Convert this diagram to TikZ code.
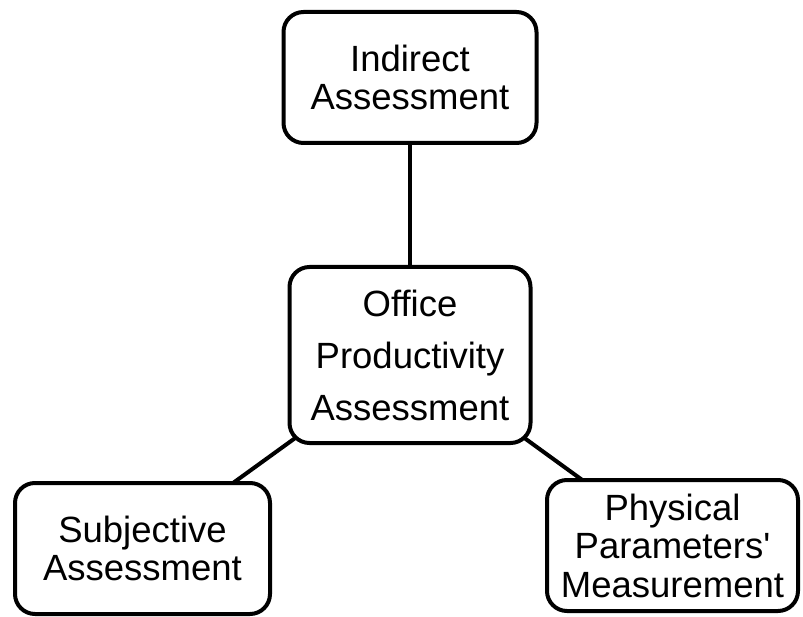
\documentclass[tikz,border=0pt]{standalone}
\usepackage{fontspec}
\setmainfont{Liberation Sans}
\usetikzlibrary{backgrounds}

\begin{document}
\begin{tikzpicture}[x=1pt, y=-1pt,
        basic/.style  = {draw, line width=4pt, rounded corners=20pt, fill=white,
                         align=center, inner sep=0pt,
                         font=\fontsize{36.5}{38.5}\selectfont},
        root/.style   = {basic, minimum width=241pt, minimum height=176pt,
                         font=\fontsize{36.5}{52}\selectfont},
        branch/.style = {basic, minimum height=131pt},
        link/.style   = {draw, line width=4pt}]

    \useasboundingbox (0,0) rectangle (803,617);

    % the central node and its three branches
    \node[root] (office) at (410,355) {Office\\Productivity\\Assessment};
    \node[branch, minimum width=253pt] (indirect) at (410,77.5) {Indirect\\Assessment};
    \node[branch, minimum width=255pt] (subjective) at (142.5,548.5) {Subjective\\Assessment};
    \node[branch, minimum width=251pt] (physical) at (672.5,545.5) {Physical\\Parameters\textquotesingle\\Measurement};

    % connectors run centre to centre, hidden behind the boxes
    \begin{scope}[on background layer]
    \foreach \other in {indirect, subjective, physical}
        \draw[link] (office.center) -- (\other.center);
    \end{scope}

\end{tikzpicture}
\end{document}
